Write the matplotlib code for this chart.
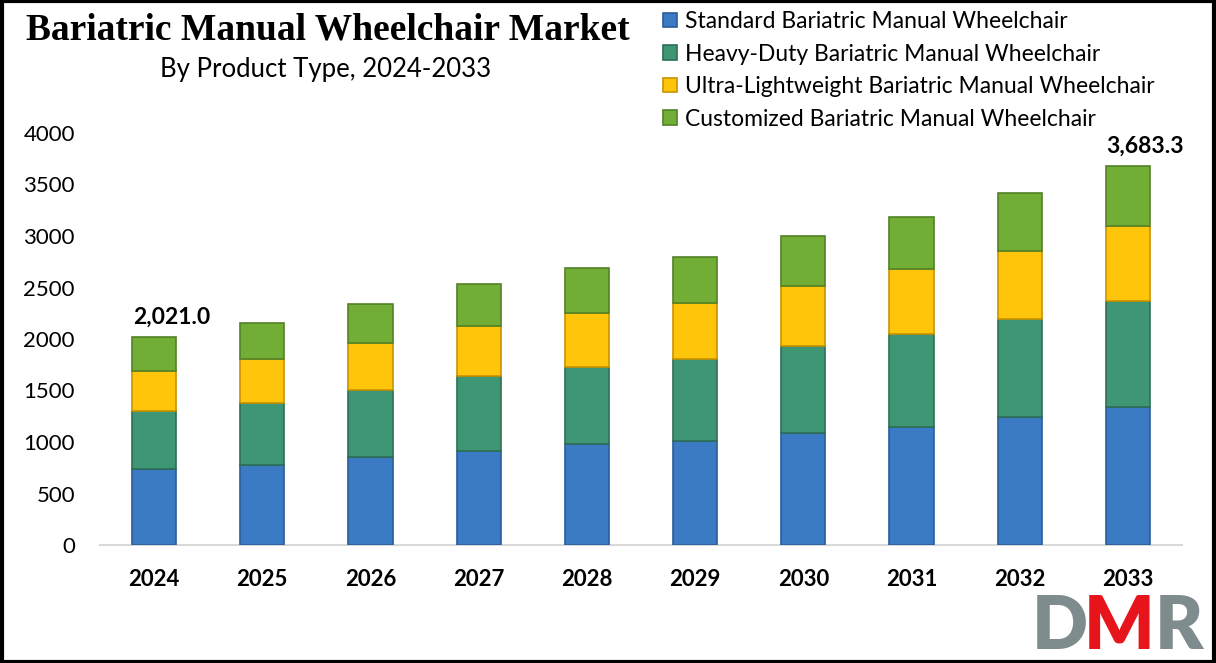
import numpy as np
import matplotlib
matplotlib.use('Agg')
import matplotlib.pyplot as plt
from matplotlib.patches import Rectangle

#%% -- data --
years = ['2024', '2025', '2026', '2027', '2028', '2029', '2030', '2031', '2032', '2033']
standard = [735, 780, 852, 916, 978, 1013, 1090, 1143, 1240, 1337]
heavy_duty = [569, 596, 653, 725, 753, 793, 845, 906, 957, 1035]
ultra_light = [388, 427, 459, 485, 519, 541, 583, 628, 661, 725]
customized = [329, 349, 376, 408, 440, 450, 482, 505, 557, 586.3]
series_names = ['Standard Bariatric Manual Wheelchair',
                'Heavy-Duty Bariatric Manual Wheelchair',
                'Ultra-Lightweight Bariatric Manual Wheelchair',
                'Customized Bariatric Manual Wheelchair']
colors = ['#3a7bc3', '#3f9674', '#ffc50a', '#72ad36']
edges = ['#2a5e98', '#2d6f54', '#c99400', '#538227']

#%% -- plot --
plt.rcParams['font.family'] = ['Lato', 'DejaVu Sans']
W, H = 1216, 663
fig = plt.figure(figsize=(W / 100, H / 100), dpi=100)
ax = fig.add_axes([100 / W, 1 - 545 / H, 1082 / W, 412 / H])

x = np.arange(len(years))
bottom = np.zeros(len(years))
handles = []
for vals, name, c, e in zip([standard, heavy_duty, ultra_light, customized], series_names, colors, edges):
    b = ax.bar(x, vals, width=0.41, bottom=bottom, color=c, edgecolor=e, linewidth=1.2, label=name, zorder=3)
    handles.append(b)
    bottom += np.array(vals)

totals = bottom
for i in [0, len(years) - 1]:
    ax.text(x[i] + 0.16, totals[i] + 90, f'{totals[i]:,.1f}', ha='center', va='bottom',
            fontsize=16.5, fontweight='bold', color='black')

ax.set_xlim(-0.5, len(years) - 0.5)
ax.set_ylim(0, 4000)
ax.set_yticks(range(0, 4001, 500))
ax.set_xticks(x)
ax.set_xticklabels(years, fontsize=16, fontweight='bold')
ax.tick_params(axis='y', labelsize=16, length=0, pad=18)
ax.tick_params(axis='x', length=0, pad=17)
for s in ['top', 'right', 'left']:
    ax.spines[s].set_visible(False)
ax.spines['bottom'].set_color('#d9d9d9')
ax.spines['bottom'].set_linewidth(1.5)

fig.text(328 / W, 1 - 30 / H, 'Bariatric Manual Wheelchair Market', ha='center', va='center',
         fontsize=27, fontweight='bold', family='Liberation Serif')
fig.text(326 / W, 1 - 70 / H, 'By Product Type, 2024-2033', ha='center', va='center', fontsize=18.5)

fig.legend(handles=handles, labels=series_names, loc='upper left', bbox_to_anchor=(654 / W, 1 - 2 / H),
           frameon=False, fontsize=16.5, handlelength=0.6, handleheight=0.6, handletextpad=0.35,
           labelspacing=0.5, borderaxespad=0)

# DMR logo
fig.text(1032 / W, 1 - 628 / H, 'D', color='#7f8c8d', fontsize=53, fontweight='heavy', va='center', ha='left')
fig.text(1084 / W, 1 - 628 / H, 'M', color='#e8141c', fontsize=53, fontweight='heavy', va='center', ha='left')
fig.text(1155 / W, 1 - 628 / H, 'R', color='#7f8c8d', fontsize=53, fontweight='heavy', va='center', ha='left')

fig.patches.append(Rectangle((0.0015, 0.002), 0.997, 0.996, transform=fig.transFigure,
                             fill=False, edgecolor='black', linewidth=3))

plt.savefig('out.png', dpi=100)
